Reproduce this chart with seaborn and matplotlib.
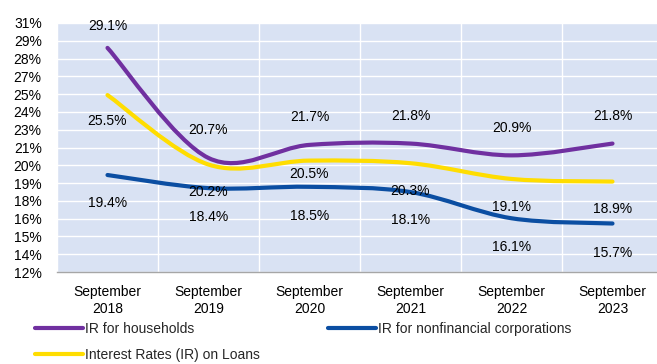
import numpy as np
import matplotlib
matplotlib.use("Agg")
import matplotlib.pyplot as plt
from matplotlib.path import Path
from matplotlib.patches import PathPatch
from matplotlib.lines import Line2D
from matplotlib.ticker import FixedLocator
import seaborn as sns

# --- data -------------------------------------------------------------
periods = ["September\n2018", "September\n2019", "September\n2020",
           "September\n2021", "September\n2022", "September\n2023"]
households = [29.1, 20.7, 21.7, 21.8, 20.9, 21.8]
loans = [25.5, 20.2, 20.5, 20.3, 19.1, 18.9]
corporations = [19.4, 18.4, 18.5, 18.1, 16.1, 15.7]
series_names = ["IR for households",
                "Interest Rates (IR) on Loans",
                "IR for nonfinancial corporations"]
y_tick_labels = ["12%", "14%", "15%", "16%", "18%", "19%", "20%", "21%",
                 "23%", "24%", "25%", "27%", "28%", "29%", "31%"]

# --- style ------------------------------------------------------------
sns.set_theme(style="darkgrid", rc={
    "axes.facecolor": "#D9E2F3",
    "grid.color": "white",
    "grid.linewidth": 1.0,
})
plt.rcParams["font.family"] = ["Liberation Sans", "DejaVu Sans"]

colors = {"households": "#7030A0", "loans": "#FFDD00", "corporations": "#0B4EA2"}
FS = 10.0

fig = plt.figure(figsize=(6.57, 3.64), dpi=100)
ax = fig.add_axes([57 / 657, 92 / 364, 606 / 657, 249 / 364])

x = np.arange(len(periods))


def smooth_path(xs, ys):
    """Cubic Bezier path through the points (Catmull-Rom style tangents)."""
    pts = np.column_stack([xs, ys]).astype(float)
    padded = np.vstack([pts[0], pts, pts[-1]])
    verts = [pts[0]]
    codes = [Path.MOVETO]
    for i in range(len(pts) - 1):
        p0, p1, p2, p3 = padded[i], padded[i + 1], padded[i + 2], padded[i + 3]
        verts += [p1 + (p2 - p0) / 6, p2 - (p3 - p1) / 6, p2]
        codes += [Path.CURVE4] * 3
    return Path(verts, codes)


# draw lines
for key, vals in [("households", households), ("corporations", corporations),
                  ("loans", loans)]:
    patch = PathPatch(smooth_path(x, vals), fill=False, edgecolor=colors[key],
                      linewidth=3.0, capstyle="round", joinstyle="round",
                      zorder=3)
    ax.add_patch(patch)

# value labels (offsets in points: negative = below)
label_offsets = {
    "households": [16, 20, 20, 20, 20, 20],
    "loans": [-19, -20, -10, -20, -20, -20],
    "corporations": [-20, -21, -21, -20, -21, -21],
}
for key, vals in [("households", households), ("loans", loans),
                  ("corporations", corporations)]:
    for xi, v, off in zip(x, vals, label_offsets[key]):
        ax.annotate(f"{v:.1f}%", (xi, v), xytext=(0, off),
                    textcoords="offset points", ha="center", va="center",
                    fontsize=FS, color="black", zorder=5)

# axes
ax.set_xlim(-0.5, 5.5)
ax.set_ylim(12, 31)
ax.yaxis.set_major_locator(FixedLocator(np.linspace(12, 31, len(y_tick_labels))))
ax.set_yticklabels(y_tick_labels, fontsize=FS, color="black")
ax.set_xticks(x)
ax.set_xticklabels(periods, fontsize=FS, color="black", linespacing=1.25)
ax.xaxis.set_minor_locator(FixedLocator(np.arange(-0.5, 6, 1.0)))
ax.grid(False, axis="x", which="major")
ax.grid(True, axis="x", which="minor", color="white", linewidth=1.0)
ax.grid(True, axis="y", which="major", color="white", linewidth=1.0)
ax.tick_params(axis="y", length=0, pad=11)
ax.tick_params(axis="x", which="both", length=0, pad=9.5)
for side in ["left", "right", "top"]:
    ax.spines[side].set_visible(False)
ax.spines["bottom"].set_visible(True)
ax.spines["bottom"].set_color("#A6A6A6")
ax.spines["bottom"].set_linewidth(1.0)
ax.set_xlabel("")
ax.set_ylabel("")

# legend
handles = [Line2D([], [], color=colors["households"], linewidth=3),
           Line2D([], [], color=colors["loans"], linewidth=3),
           Line2D([], [], color=colors["corporations"], linewidth=3)]
fig.legend(handles, series_names, loc="upper left",
           bbox_to_anchor=(35 / 657, 1 - 322 / 364), ncol=2, frameon=False,
           fontsize=FS, handlelength=3.45, handletextpad=0.15,
           columnspacing=4.9, labelspacing=0.85, borderpad=0,
           borderaxespad=0)

fig.savefig("out.png", dpi=100)
